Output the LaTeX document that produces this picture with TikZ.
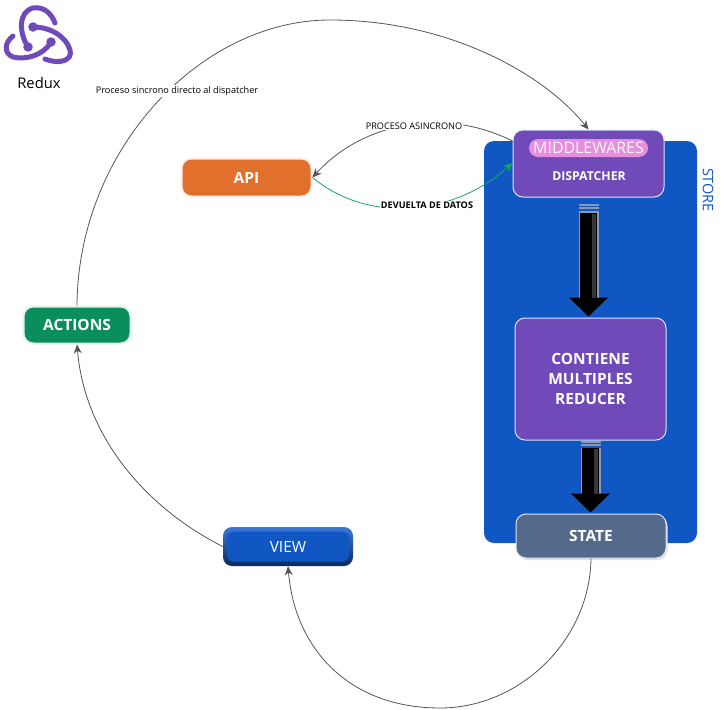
\documentclass[tikz,border=0pt]{standalone}
\usepackage{fontspec}
\setmainfont{Open Sans}
\usetikzlibrary{arrows.meta}
\usetikzlibrary{shapes.misc}
\usetikzlibrary{shadows}

\definecolor{storeblue}{HTML}{1057C4}
\definecolor{reduxpurple}{HTML}{6F4AB8}
\definecolor{pillpink}{HTML}{E590DC}
\definecolor{statesteel}{HTML}{556A8A}
\definecolor{apiorange}{HTML}{E0702C}
\definecolor{actionsgreen}{HTML}{0A8F5C}
\definecolor{viewedge}{HTML}{0A2A60}
\definecolor{viewlight}{HTML}{3A78D6}
\definecolor{linegrey}{HTML}{555555}
\definecolor{backgreen}{HTML}{12A85F}
\definecolor{arrowedge}{HTML}{8A98B8}

\def\px{0.025cm}

\tikzset{
  box/.style={rectangle, rounded corners=10*\px, text=white, align=center, font=\bfseries\fontsize{11}{14}\selectfont},
  inner/.style={box, draw=white!85!storeblue, line width=1*\px, fill=reduxpurple},
  softshadow/.style={drop shadow={shadow xshift=1.5*\px, shadow yshift=-2*\px, fill=black!12, opacity=1}},
  link/.style={draw=linegrey, line width=0.8*\px, -{Stealth[length=9*\px, width=8*\px]}},
  tag/.style={fill=white, inner sep=1*\px, font=\fontsize{6.5}{8}\selectfont},
  thick edge/.style={line width=20*\px, draw=arrowedge, shorten >=19*\px},
  thick core/.style={draw=black, line width=17*\px, shorten >=1*\px,
    -{Triangle[length=19*\px, width=38*\px, inset=0pt]}},
  thick shine/.style={line width=4*\px, draw=black!78, shorten >=20*\px},
  thick stripes/.style={line width=20*\px, draw=arrowedge, dash pattern=on 2*\px off 1.5*\px},
  logo/.style={draw=reduxpurple, line width=5*\px, line cap=round},
  logodot/.style={circle, fill=reduxpurple, minimum size=9.5*\px, inner sep=0pt}
}

\begin{document}
\begin{tikzpicture}[x=0.025cm, y=-0.025cm]

  \useasboundingbox (0,0) rectangle (725,710);

  % store and what sits on it
  \draw (590.5,342) node[name=store, box, fill=storeblue, minimum width=213*\px, minimum height=402*\px] {};
  \draw (588.5,163.5) node[name=dispatcher, inner, minimum width=151*\px, minimum height=67*\px] {};
  \draw (588.5,148) node[name=middlewares, rounded rectangle, fill=pillpink, text=white!92!pillpink,
    minimum width=119*\px, minimum height=18*\px, inner sep=0pt, font=\fontsize{11.3}{14}\selectfont] {MIDDLEWARES};
  \draw (589,176) node[name=dispatchertext, font=\bfseries\fontsize{8.7}{10}\selectfont, text=white] {DISPATCHER};
  \draw (590.5,379) node[name=reducer, inner, minimum width=151*\px, minimum height=122*\px] {CONTIENE\\MULTIPLES\\REDUCER};
  \draw (591,536) node[name=state, inner, softshadow, fill=statesteel, minimum width=150*\px, minimum height=44*\px] {STATE};
  \draw (708,190) node[name=storetext, rotate=-90, text=storeblue, font=\fontsize{10.3}{12}\selectfont] {STORE};

  % outer boxes
  \draw (246.5,177.5) node[name=api, box, fill=apiorange, draw=apiorange!12, line width=2*\px, minimum width=130*\px, minimum height=38*\px] {API};
  \draw (77,325) node[name=actions, box, fill=actionsgreen, draw=actionsgreen!12, line width=2*\px, minimum width=107*\px, minimum height=37*\px] {ACTIONS};
  \draw (288,546.5) node[name=view, rectangle, rounded corners=9*\px, top color=viewlight, bottom color=viewedge,
    minimum width=130*\px, minimum height=39*\px] {};
  \draw (view) node[name=viewface, box, rounded corners=7*\px, fill=storeblue, minimum width=122*\px, minimum height=30*\px,
    font=\fontsize{11}{14}\selectfont] {VIEW};

  % thick arrows
  \draw [thick edge, shorten <=15*\px] (dispatcher.south) -- (dispatcher.south |- reducer.north);
  \draw [thick core, shorten <=15*\px] (dispatcher.south) -- (dispatcher.south |- reducer.north);
  \draw [thick shine, shorten <=16*\px] ([xshift=5*\px]dispatcher.south) -- ([xshift=5*\px]dispatcher.south |- reducer.north);
  \draw [thick stripes, shorten <=6*\px] (dispatcher.south) -- ++(0,15);
  \draw [thick edge, shorten <=7*\px] (reducer.south) -- (reducer.south |- state.north);
  \draw [thick core, shorten <=7*\px] (reducer.south) -- (reducer.south |- state.north);
  \draw [thick shine, shorten <=8*\px] ([xshift=5*\px]reducer.south) -- ([xshift=5*\px]reducer.south |- state.north);
  \draw [thick stripes] (reducer.south) -- ++(0,6.5);

  % round trip
  \draw [link] (actions.north) .. controls (78,150) and (200,20) .. (330,20)
    .. controls (450,20) and (545,75) .. (dispatcher.north);
  \draw [link] (view.west) .. controls (150,510) and (85,440) .. (actions.south);
  \draw [link] (state.south) .. controls (590,640) and (520,708) .. (440,708)
    .. controls (350,708) and (295,650) .. (view.south);

  % api calls
  \draw [link] (dispatcher.west |- 0,141) .. controls (440,105) and (360,125) .. (api.east);
  \draw [link, draw=backgreen] (api.east) .. controls (370,225) and (455,215) .. (dispatcher.west |- 0,163);
  \draw (177,91) node[name=synctext, tag] {Proceso sincrono directo al dispatcher};
  \draw (414,126) node[name=asynctext, tag] {PROCESO ASINCRONO};
  \draw (427,205) node[name=backtext, tag, font=\bfseries\fontsize{6.5}{8}\selectfont] {DEVUELTA DE DATOS};

  % logo
  \draw [logo] (28,47) .. controls (19,33) and (18,12) .. (33,8) .. controls (45,6) and (52,15) .. (55,23);
  \draw [logo] (33,27) .. controls (50,27) and (66,36) .. (70,50) .. controls (73,60) and (60,65) .. (45,59);
  \draw [logo] (51,42) .. controls (43,56) and (25,60) .. (13,57) .. controls (3,53) and (5,42) .. (13,36);
  \draw (33,27) node[name=dota, logodot] {};
  \draw (28,47) node[name=dotb, logodot] {};
  \draw (51,42) node[name=dotc, logodot] {};
  \draw (39,83) node[name=reduxtext, font=\fontsize{10.5}{13}\selectfont] {Redux};

\end{tikzpicture}
\end{document}
